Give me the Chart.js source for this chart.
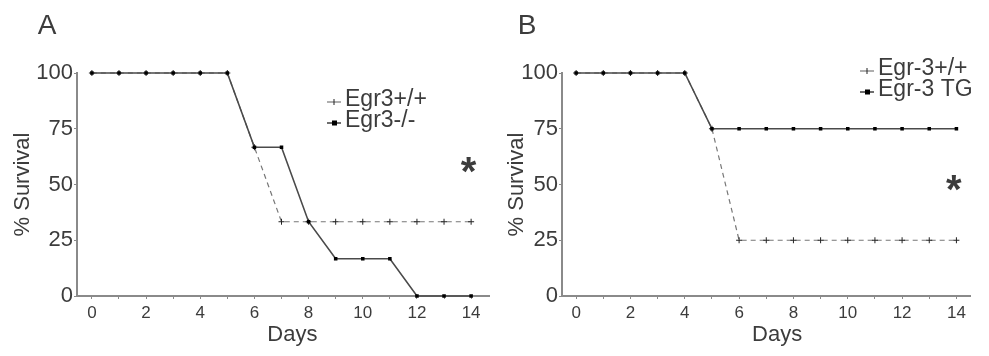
<!DOCTYPE html>
<html>
<head>
<meta charset="utf-8">
<script src="https://cdn.jsdelivr.net/npm/chart.js@4.4.1/dist/chart.umd.min.js"></script>
<style>
  html, body { margin: 0; padding: 0; background: #fff; }
  #wrap { position: relative; width: 989px; height: 356px; }
  canvas { position: absolute; top: 0; }
</style>
</head>
<body>
<div id="wrap">
  <canvas id="panelA" width="494" height="356" style="left:0"></canvas>
  <canvas id="panelB" width="495" height="356" style="left:494px"></canvas>
</div>
<script>
const days = [0, 1, 2, 3, 4, 5, 6, 7, 8, 9, 10, 11, 12, 13, 14];
const dayLabels = ['0', '2', '4', '6', '8', '10', '12', '14'];
const survivalTicks = [0, 25, 50, 75, 100];

// panel A
const egr3WildType = [100, 100, 100, 100, 100, 100, 66.7, 33.3, 33.3, 33.3, 33.3, 33.3, 33.3, 33.3, 33.3];
const egr3Knockout = [100, 100, 100, 100, 100, 100, 66.7, 66.7, 33.3, 16.7, 16.7, 16.7, 0, 0, 0];
const panelALabels = ['Egr3+/+', 'Egr3-/-'];

// panel B
const egr3WildTypeB = [100, 100, 100, 100, 100, 75, 25, 25, 25, 25, 25, 25, 25, 25, 25];
const egr3Transgenic = [100, 100, 100, 100, 100, 75, 75, 75, 75, 75, 75, 75, 75, 75, 75];
const panelBLabels = ['Egr-3+/+', 'Egr-3 TG'];

const fontFamily = '"Liberation Sans", Arial, Helvetica, sans-serif';
const textColor = '#3c3c3c';
const axisColor = '#8a8a8a';

Chart.defaults.font.family = fontFamily;
Chart.defaults.color = textColor;

const toPoints = (values) => days.map((d, i) => ({ x: d, y: values[i] }));

const dashedSet = (label, values) => ({
  label,
  data: toPoints(values),
  borderColor: '#777',
  borderWidth: 1.2,
  borderDash: [5, 4],
  pointStyle: 'cross',
  pointRadius: 3,
  pointBorderWidth: 1,
  pointBorderColor: '#222',
  clip: false,
  order: 1
});

const solidSet = (label, values) => ({
  label,
  data: toPoints(values),
  borderColor: '#4a4a4a',
  borderWidth: 1.6,
  pointStyle: 'rect',
  pointRadius: 2.5,
  pointBackgroundColor: '#000',
  pointBorderColor: '#000',
  pointBorderWidth: 0,
  clip: false,
  order: 0
});

const panelDecor = {
  id: 'panelDecor',
  afterDraw(chart, args, opts) {
    const ctx = chart.ctx;
    const { x, y } = chart.scales;
    ctx.save();
    ctx.fillStyle = textColor;
    ctx.textAlign = 'center';
    ctx.textBaseline = 'middle';

    ctx.font = `28px ${fontFamily}`;
    ctx.fillText(opts.letter, opts.letterX, 26);

    ctx.font = `22px ${fontFamily}`;
    ctx.fillText('Days', x.getPixelForValue(7.4), 335);

    ctx.font = `bold 40px ${fontFamily}`;
    ctx.textBaseline = 'alphabetic';
    ctx.fillText('*', x.getPixelForValue(opts.star[0]), y.getPixelForValue(opts.star[1]) + 18);

    // legend
    ctx.font = `23px ${fontFamily}`;
    ctx.textAlign = 'left';
    ctx.textBaseline = 'middle';
    chart.data.datasets.forEach((ds, i) => {
      const ty = opts.legendY + i * 21;
      const my = ty + 2;
      const mx = opts.legendX;
      ctx.strokeStyle = ds.borderColor;
      ctx.lineWidth = ds.borderWidth;
      ctx.setLineDash([]);
      ctx.beginPath();
      ctx.moveTo(mx, my);
      ctx.lineTo(mx + 14, my);
      ctx.stroke();
      ctx.fillStyle = '#000';
      if (ds.pointStyle === 'rect') {
        ctx.fillRect(mx + 5, my - 2.5, 5, 5);
      } else {
        ctx.strokeStyle = '#222';
        ctx.lineWidth = 1;
        ctx.beginPath();
        ctx.moveTo(mx + 7, my - 3);
        ctx.lineTo(mx + 7, my + 3);
        ctx.stroke();
      }
      ctx.fillStyle = textColor;
      ctx.fillText(ds.label, mx + 18, ty);
    });
    ctx.restore();
  }
};

const makePanel = (id, datasets, cfg) => new Chart(document.getElementById(id), {
  type: 'line',
  data: { datasets },
  plugins: [panelDecor],
  options: {
    responsive: false,
    animation: false,
    devicePixelRatio: 1,
    layout: { padding: { top: 73, right: cfg.rightPad, left: 0, bottom: 0 } },
    plugins: {
      legend: { display: false },
      tooltip: { enabled: false },
      panelDecor: cfg.decor
    },
    scales: {
      x: {
        type: 'linear',
        min: cfg.xMin,
        max: cfg.xMax,
        afterFit: (s) => { s.height = 60; },
        afterBuildTicks: (s) => { s.ticks = days.map((v) => ({ value: v })); },
        border: { display: true, color: axisColor, width: 2 },
        grid: { drawOnChartArea: false, drawTicks: true, tickLength: 3, color: axisColor },
        ticks: {
          autoSkip: false,
          maxRotation: 0,
          padding: 4,
          font: { size: 17 },
          callback: (v) => (dayLabels.includes(String(v)) ? String(v) : '')
        }
      },
      y: {
        min: 0,
        max: 100,
        afterFit: (s) => { s.width = cfg.yWidth; },
        afterBuildTicks: (s) => { s.ticks = survivalTicks.map((v) => ({ value: v })); },
        border: { display: true, color: axisColor, width: 2 },
        grid: { drawOnChartArea: false, drawTicks: true, tickLength: 3, color: axisColor },
        ticks: { padding: 1, font: { size: 22 } },
        title: {
          display: true,
          text: '% Survival',
          font: { size: 22 },
          padding: { top: 10, bottom: 0 }
        }
      }
    }
  }
});

makePanel('panelA', [
  dashedSet(panelALabels[0], egr3WildType),
  solidSet(panelALabels[1], egr3Knockout)
], {
  rightPad: 4,
  yWidth: 77,
  xMin: -0.55,
  xMax: 14.66,
  decor: { letter: 'A', letterX: 47, star: [13.9, 57.8], legendX: 327, legendY: 100 }
});

makePanel('panelB', [
  dashedSet(panelBLabels[0], egr3WildTypeB),
  solidSet(panelBLabels[1], egr3Transgenic)
], {
  rightPad: 19,
  yWidth: 68,
  xMin: -0.52,
  xMax: 14.5,
  decor: { letter: 'B', letterX: 33, star: [13.9, 49.8], legendX: 366, legendY: 69 }
});
</script>
</body>
</html>
